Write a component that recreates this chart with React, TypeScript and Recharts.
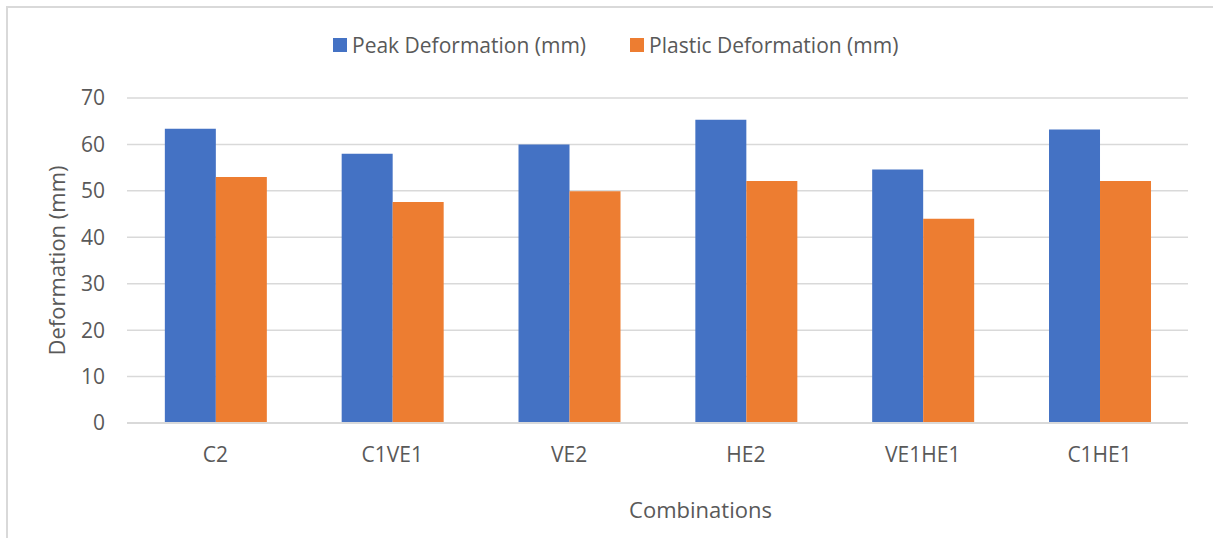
import { BarChart, Bar, XAxis, YAxis, CartesianGrid, Legend, Label } from "recharts";

const combinations = ["C2", "C1VE1", "VE2", "HE2", "VE1HE1", "C1HE1"];
const peakDeformation = [63.4, 58.0, 60.0, 65.3, 54.6, 63.2];
const plasticDeformation = [53.0, 47.6, 49.9, 52.1, 44.0, 52.1];
const yTicks = [0, 10, 20, 30, 40, 50, 60, 70];

const data = combinations.map((name, i) => ({
  name,
  "Peak Deformation (mm)": peakDeformation[i],
  "Plastic Deformation (mm)": plasticDeformation[i],
}));

const FONT = "'Open Sans', 'Noto Sans', sans-serif";
const TEXT = "#595959";

const renderLegend = (props: any) => {
  const { payload } = props;
  return (
    <div style={{ display: "flex", alignItems: "center", fontFamily: FONT, fontSize: 21, lineHeight: "26px", color: TEXT }}>
      {payload.map((entry: any, i: number) => (
        <div key={entry.value} style={{ display: "flex", alignItems: "center", marginRight: i === 0 ? 44 : 0 }}>
          <span style={{ width: 14, height: 14, background: entry.color, marginRight: 5, display: "inline-block" }} />
          <span>{entry.value}</span>
        </div>
      ))}
    </div>
  );
};

export default function App() {
  return (
    <div style={{ position: "absolute", left: 0, top: 0, width: 1213, height: 538, overflow: "hidden", background: "#fff" }}>
      <div
        style={{
          position: "absolute",
          left: 6,
          top: 6,
          width: 1400,
          height: 700,
          border: "2px solid #d9d9d9",
        }}
      />
      <div style={{ position: "absolute", left: 0, top: 0 }}>
        <BarChart
          width={1213}
          height={538}
          data={data}
          margin={{ top: 72, right: 25, bottom: 0, left: 0 }}
          barCategoryGap="21.4%"
          barGap={0}
        >
          <CartesianGrid vertical={false} stroke="#d9d9d9" strokeWidth={1.5} />
          <XAxis
            dataKey="name"
            height={115}
            axisLine={{ stroke: "#d9d9d9", strokeWidth: 2 }}
            tickLine={false}
            tickMargin={18}
            tick={{ fill: TEXT, fontSize: 21, fontFamily: FONT }}
          >
            <Label
              value="Combinations"
              position="insideBottom"
              offset={20}
              dx={43}
              style={{ fill: TEXT, fontSize: 22, fontFamily: FONT }}
            />
          </XAxis>
          <YAxis
            width={127}
            domain={[0, 70]}
            ticks={yTicks}
            axisLine={false}
            tickLine={false}
            tickMargin={16}
            tick={{ fill: TEXT, fontSize: 21, fontFamily: FONT }}
          >
            <Label
              value="Deformation (mm)"
              angle={-90}
              position="center"
              dx={-6}
              style={{ fill: TEXT, fontSize: 22, fontFamily: FONT, textAnchor: "middle" }}
            />
          </YAxis>
          <Legend
            verticalAlign="top"
            content={renderLegend}
            wrapperStyle={{ position: "absolute", top: 32, left: 333, width: "auto" }}
          />
          <Bar dataKey="Peak Deformation (mm)" fill="#4472C4" isAnimationActive={false} />
          <Bar dataKey="Plastic Deformation (mm)" fill="#ED7D31" isAnimationActive={false} />
        </BarChart>
      </div>
    </div>
  );
}
